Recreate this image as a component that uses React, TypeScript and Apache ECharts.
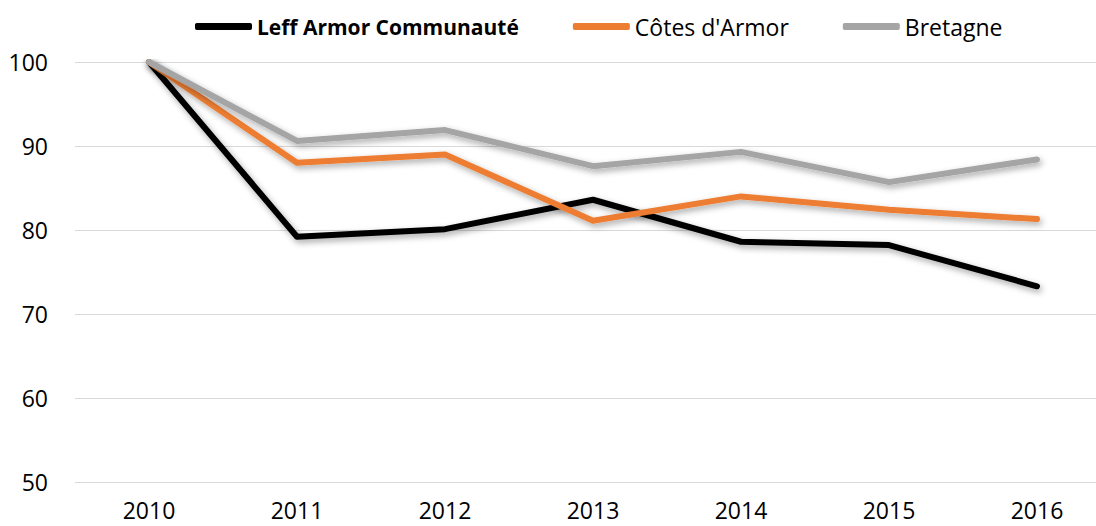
import React, { useEffect, useRef } from "react";
import * as echarts from "echarts";

const years = ["2010", "2011", "2012", "2013", "2014", "2015", "2016"];
const leff = [100, 79.2, 80.1, 83.6, 78.6, 78.2, 73.3];
const cotes = [100, 88.0, 89.0, 81.1, 84.0, 82.4, 81.3];
const bretagne = [100, 90.6, 91.9, 87.6, 89.3, 85.7, 88.4];
const names = ["Leff Armor Communauté", "Côtes d'Armor", "Bretagne"];
const colors = ["#000000", "#ED7D31", "#A5A5A5"];

const FONT = "Open Sans";

export default function App() {
  const ref = useRef<HTMLDivElement>(null);
  useEffect(() => {
    const chart = echarts.init(ref.current!, null, { renderer: "svg" });
    const mk = (name: string, data: number[], color: string) => ({
      name,
      type: "line",
      data,
      symbol: "none",
      lineStyle: {
        color,
        width: 6,
        cap: "round",
        join: "round",
        shadowColor: "rgba(0,0,0,0.35)",
        shadowBlur: 6,
        shadowOffsetX: 2,
        shadowOffsetY: 3,
      },
      itemStyle: { color },
    });
    chart.setOption({
      animation: false,
      textStyle: { fontFamily: FONT },
      legend: {
        top: 10,
        left: 190,
        itemWidth: 57,
        itemHeight: 7,
        itemGap: 54,
        icon: "roundRect",
        textStyle: { fontFamily: FONT, fontSize: 23, color: "#000" },
        data: [
          { name: names[0], textStyle: { fontWeight: "bold", fontSize: 21 } },
          { name: names[1] },
          { name: names[2] },
        ],
      },
      grid: { left: 75, right: -15, top: 62, bottom: 44, outerBoundsMode: "none" },
      xAxis: {
        type: "category",
        data: years,
        boundaryGap: true,
        axisLine: { show: false },
        axisTick: { show: false },
        axisLabel: { color: "#000", fontSize: 23, fontFamily: FONT, margin: 16 },
      },
      yAxis: {
        type: "value",
        min: 50,
        max: 100,
        interval: 10,
        axisLine: { show: false },
        axisTick: { show: false },
        axisLabel: { color: "#000", fontSize: 23, fontFamily: FONT, margin: 27 },
        splitLine: { lineStyle: { color: "#D9D9D9", width: 1 } },
      },
      series: [
        mk(names[0], leff, colors[0]),
        mk(names[1], cotes, colors[1]),
        mk(names[2], bretagne, colors[2]),
      ],
    });
    return () => chart.dispose();
  }, []);
  return (
    <div
      ref={ref}
      style={{ position: "fixed", left: 0, top: 0, width: 1096, height: 526, background: "#fff" }}
    />
  );
}
